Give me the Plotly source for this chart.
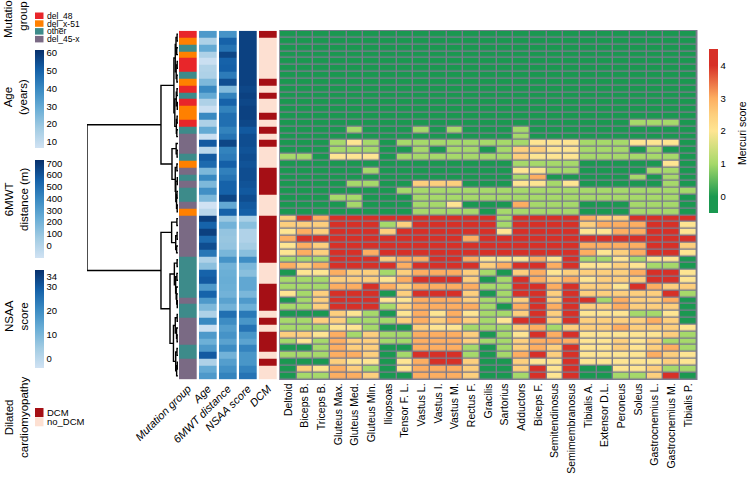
import plotly.graph_objects as go

# ---------------- data ----------------
MUSCLES = ["Deltoid", "Biceps B.", "Triceps B.", "Gluteus Max.", "Gluteus Med.", "Gluteus Min.",
           "Iliopsoas", "Tensor F. L.", "Vastus L.", "Vastus I.", "Vastus M.", "Rectus F.",
           "Gracilis", "Sartorius", "Adductors", "Biceps F.", "Semitendinosus", "Semimembranosus",
           "Tibialis A.", "Extensor D.L.", "Peroneus", "Soleus", "Gastrocnemius L.",
           "Gastrocnemius M.", "Tibialis P."]

# Mercuri score codes per patient row ('h' = 2.5)
MERCURI_CODE = {'0': 0, '1': 1, '2': 2, 'h': 2.5, '3': 3, '4': 4}
MERCURI_ROWS = [
    "0000000000000000000000000",
    "0000000000000000000000000",
    "0000000000000000000000000",
    "0000000000000000000000000",
    "0000000000000000000000000",
    "0000000000000000000000000",
    "0000000000000000000000000",
    "0000000000000000000000000",
    "0000000000000000000000000",
    "0000000000000000000000000",
    "0000000000000000000000000",
    "0000000000000000000000000",
    "0000000000000000000000000",
    "0000000000000000000001110",
    "0000100010100010000000000",
    "0000000000000010000000000",
    "0001210111111112221112220",
    "00011100101101hh221110100",
    "11022201111111h2221111110",
    "0000000000000011110000020",
    "0000010000000022110000110",
    "0000000000000013000001010",
    "00001100hhh00022120000010",
    "0000000111111111111111111",
    "0001100011111111111111110",
    "0000100011200031110001110",
    "0000000011110111110001110",
    "h434444444444144443hh4444",
    "hhh4441h4444414444h333442",
    "23h444h444444244442233442",
    "3444444444434444444444444",
    "23h444444444444444333344h",
    "23h44344444444444432h3442",
    "111444h334432223241121220",
    "3h3444434444h3443422h2110",
    "0223hh1h333h10h32hhhh3442",
    "111hhh23444h0143h32hhh442",
    "1113343h3333114434hh243hh",
    "21h4440h444h0144h4hhhhh41",
    "01h44422333h11h4h4413hh30",
    "11h4441h3333103434hh3hhh0",
    "000h2102323211h4h42221120",
    "11hh111h3h3h1244h4hhhh3h0",
    "11122100h22111h31hhh3hhh2",
    "hh231h11333h01243422222h1",
    "1213hh11333h11h33322h2h11",
    "0013hh00333101h3h422h2h31",
    "11133h0144410134h422223h2",
    "000h2202344h00h22422222h2",
    "0h23h102333h00h4240022h11",
    "01133h00333h0014240011h40",
]

MUT_CATS = ["del_48", "del_x-51", "other", "del_45-x"]
MUT_COLORS = ["#e8262a", "#ff8000", "#3d8b8a", "#7a6a84"]
MUTATION = (["del_48", "del_x-51", "other", "del_x-51", "del_48", "del_48", "other", "del_x-51",
             "del_48", "other", "del_48", "del_x-51", "del_x-51", "del_48", "other", "del_45-x",
             "del_45-x", "del_45-x", "other", "del_x-51", "del_45-x", "other", "del_45-x", "other",
             "other", "del_45-x", "del_x-51"]
            + ["del_45-x"] * 6 + ["other"] * 6 + ["del_45-x"] + ["other"] * 2
            + ["del_45-x"] * 4 + ["other"] * 2 + ["del_45-x"] * 3)

AGE = [35, 15, 30, 15, 8, 14, 15, 25, 40, 30, 15, 8, 40, 15, 30, 8, 52, 12, 52, 48, 25, 40, 25,
       38, 25, 6, 12, 58, 50, 58, 48, 55, 45, 15, 22, 50, 52, 35, 50, 35, 25, 15, 40, 8, 35, 28,
       35, 52, 15, 30, 35]
MWT6 = [350, 550, 480, 650, 550, 560, 450, 620, 150, 420, 550, 420, 500, 500, 420, 480, 650, 420,
        450, 560, 430, 480, 550, 550, 650, 250, 550, 80, 200, 100, 90, 100, 180, 350, 200, 220,
        230, 220, 200, 280, 200, 500, 380, 300, 350, 280, 380, 200, 300, 360, 420]
NSAA = [34, 34, 34, 34, 34, 34, 34, 34, 33, 34, 33, 34, 34, 33, 30, 32, 32, 31, 32, 31, 32, 32,
        31, 30, 32, 30, 29, 3, 8, 2, 2, 4, 8, 20, 10, 8, 14, 14, 10, 17, 12, 24, 18, 25, 18, 15,
        22, 18, 18, 22, 25]
DCM_CATS = ["DCM", "no_DCM"]
DCM_COLORS = ["#a50f15", "#fde0d2"]
DCM = (["DCM"] + ["no_DCM"] * 6 + ["DCM", "no_DCM", "DCM", "no_DCM", "no_DCM", "DCM", "no_DCM",
        "DCM", "no_DCM", "DCM"] + ["no_DCM"] * 3 + ["DCM"] * 4 + ["no_DCM"] * 3 + ["DCM"] * 7
       + ["no_DCM"] * 3 + ["DCM"] * 4 + ["no_DCM", "DCM", "no_DCM"] + ["DCM"] * 3
       + ["no_DCM", "DCM", "no_DCM", "no_DCM"])

ANNOT_LABELS = ["Mutation group", "Age", "6MWT distance", "NSAA score", "DCM"]

# dendrogram: [left, right, merge height]; leaves are row indices
DENDRO = [
    [[[[[0, 1, .010], [2, 3, .014], .022], [[4, 5, .009], [6, 7, .012], .020], .030],
      [[[8, 9, .011], [10, 11, .008], .019], [[12, 13, .010], [14, 15, .013], .018], .035], .045],
     [[16, [17, 18, .010], .020],
      [[19, 20, .012], [[21, 22, .008], [[23, 24, .011], [25, 26, .009], .016], .024], .030],
      .066],
     .187],
    [[[27, 28, .012], [[29, 30, .010], [31, 32, .015], .025], .070],
     [[[33, 34, .010], [[35, 36, .012], [37, [38, [39, 40, .008], .014], .020], .026], .040],
      [[[41, 42, .009], [43, [44, 45, .010], .016], .030],
       [[46, 47, .011], [[48, 49, .008], 50, .015], .025], .050],
      .088],
     .187],
    1.0]

# ---------------- helpers ----------------
W, H = 750, 482
FONT = "Liberation Sans, Arial, Helvetica, sans-serif"


def px(x):
    return x / W


def py(y):
    return 1 - y / H


N = len(MERCURI_ROWS)
z = [[MERCURI_CODE[c] for c in row] for row in MERCURI_ROWS]

HM_X0, HM_X1 = 280, 696.7
HM_Y0, HM_Y1 = 30.7, 379.3
AN_X0, AN_X1 = 178, 278
DG_X0, DG_X1 = 87, 178

MERC_SCALE = [[0, '#1a9850'], [0.1, '#1a9850'], [0.3, '#a6d96a'], [0.5, '#fee592'],
              [0.6, '#fdcf7d'], [0.7, '#fdae61'], [0.9, '#d73027'], [1, '#d73027']]
BLUES = [[0, '#d0e2f3'], [0.2, '#a3cce3'], [0.4, '#6aaed6'], [0.6, '#3a8ac2'],
         [0.8, '#1460a8'], [1, '#08306b']]


def discrete_scale(colors):
    n = len(colors)
    sc = []
    for i, c in enumerate(colors):
        sc.append([i / n, c])
        sc.append([(i + 1) / n, c])
    return sc


fig = go.Figure()

# main heatmap
fig.add_trace(go.Heatmap(
    z=z, x0=0, dx=1, y0=0, dy=1, colorscale=MERC_SCALE, zmin=-0.5, zmax=4.5,
    xgap=1.4, ygap=1.4, hoverinfo='skip', xaxis='x', yaxis='y',
    colorbar=dict(x=px(709), xanchor='left', xpad=0, y=py(131), yanchor='middle', ypad=0,
                  len=164, lenmode='pixels', thickness=9, outlinewidth=0,
                  tickvals=[0, 1, 2, 3, 4], ticks='', tickfont=dict(size=9.5, family=FONT, color='black'))
))

# annotation columns
mut_idx = [[MUT_CATS.index(m)] for m in MUTATION]
fig.add_trace(go.Heatmap(z=mut_idx, x0=0, dx=1, y0=0, dy=1, colorscale=discrete_scale(MUT_COLORS),
                         zmin=-0.5, zmax=len(MUT_CATS) - 0.5, showscale=False, xgap=2.3, ygap=0,
                         hoverinfo='skip', xaxis='x2', yaxis='y'))


def blue_bar(ycenter, tickvals):
    return dict(x=px(35), xanchor='left', xpad=0, y=py(ycenter), yanchor='middle', ypad=0,
                len=98, lenmode='pixels', thickness=9, outlinewidth=0, tickvals=tickvals,
                ticks='', tickfont=dict(size=9.5, family=FONT, color='black'))


fig.add_trace(go.Heatmap(z=[[v] for v in AGE], x0=1, dx=1, y0=0, dy=1, colorscale=BLUES,
                         zmin=6.6, zmax=61.7, xgap=2.3, ygap=0, hoverinfo='skip', xaxis='x2', yaxis='y',
                         colorbar=blue_bar(99, [10, 20, 30, 40, 50, 60])))
fig.add_trace(go.Heatmap(z=[[v] for v in MWT6], x0=2, dx=1, y0=0, dy=1, colorscale=BLUES,
                         zmin=-110, zmax=725, xgap=2.3, ygap=0, hoverinfo='skip', xaxis='x2', yaxis='y',
                         colorbar=blue_bar(209.5, [0, 100, 200, 300, 400, 500, 600, 700])))
fig.add_trace(go.Heatmap(z=[[v] for v in NSAA], x0=3, dx=1, y0=0, dy=1, colorscale=BLUES,
                         zmin=-3.8, zmax=36.9, xgap=2.3, ygap=0, hoverinfo='skip', xaxis='x2', yaxis='y',
                         colorbar=blue_bar(319, [0, 10, 20, 30, 34])))
dcm_idx = [[DCM_CATS.index(d)] for d in DCM]
fig.add_trace(go.Heatmap(z=dcm_idx, x0=4, dx=1, y0=0, dy=1, colorscale=discrete_scale(DCM_COLORS),
                         zmin=-0.5, zmax=len(DCM_CATS) - 0.5, showscale=False, xgap=2.3, ygap=0,
                         hoverinfo='skip', xaxis='x2', yaxis='y'))

# dendrogram
dx_, dy_ = [], []


def walk(node):
    if isinstance(node, int):
        return 0.0, float(node)
    hl, yl = walk(node[0])
    hr, yr = walk(node[1])
    h = node[2]
    dx_.extend([hl, h, h, hr, None])
    dy_.extend([yl, yl, yr, yr, None])
    return h, (yl + yr) / 2


walk(DENDRO)
fig.add_trace(go.Scatter(x=dx_, y=dy_, mode='lines', line=dict(color='black', width=1.4),
                         hoverinfo='skip', xaxis='x3', yaxis='y', cliponaxis=False, showlegend=False))

# grid background behind main heatmap
shapes = [dict(type='rect', xref='paper', yref='paper', x0=px(HM_X0 - 0.8), x1=px(HM_X1 + 0.8),
               y0=py(HM_Y1 + 0.8), y1=py(HM_Y0 - 0.8), fillcolor='#7b7b8d', line=dict(width=0),
               layer='below')]
annotations = []

# left legend: mutation group
for i, (cat, col) in enumerate(zip(MUT_CATS, MUT_COLORS)):
    yt = 12.5 + 7.8 * i
    shapes.append(dict(type='rect', xref='paper', yref='paper', x0=px(35), x1=px(43.5),
                       y0=py(yt + 6.5), y1=py(yt), fillcolor=col, line=dict(width=0)))
    annotations.append(dict(x=px(45), y=py(yt + 3.3), xref='paper', yref='paper', text=cat,
                            showarrow=False, xanchor='left', yanchor='middle',
                            font=dict(size=8.5, family=FONT, color='black')))
for i, (cat, col) in enumerate(zip(DCM_CATS, DCM_COLORS)):
    yt = 408 + 9.3 * i
    shapes.append(dict(type='rect', xref='paper', yref='paper', x0=px(35), x1=px(43.5),
                       y0=py(yt + 9), y1=py(yt), fillcolor=col, line=dict(width=0)))
    annotations.append(dict(x=px(45), y=py(yt + 4.5), xref='paper', yref='paper', text=cat,
                            showarrow=False, xanchor='left', yanchor='middle',
                            font=dict(size=9.5, family=FONT, color='black')))

# rotated left titles
for text, yc in [("Mutation<br>group", 16), ("Age<br>(years)", 97), ("6MWT<br>distance (m)", 200),
                 ("NSAA<br>score", 316), ("Dilated<br>cardiomyopathy", 418)]:
    annotations.append(dict(x=px(16), y=py(yc), xref='paper', yref='paper', text=text,
                            showarrow=False, textangle=-90, xanchor='center', yanchor='middle',
                            font=dict(size=11.5, family=FONT, color='black')))

# Mercuri colorbar title
annotations.append(dict(x=px(742), y=py(133), xref='paper', yref='paper', text='Mercuri score',
                        showarrow=False, textangle=-90, xanchor='center', yanchor='middle',
                        font=dict(size=10.5, family=FONT, color='black')))

fig.update_layout(
    width=W, height=H, margin=dict(l=0, r=0, t=0, b=0, autoexpand=False),
    paper_bgcolor='white', plot_bgcolor='white', showlegend=False,
    font=dict(family=FONT, color='black'),
    xaxis=dict(domain=[px(HM_X0), px(HM_X1)], range=[-0.5, len(MUSCLES) - 0.5], anchor='y',
               tickvals=list(range(len(MUSCLES))), ticktext=MUSCLES, tickangle=-90, ticks='',
               showgrid=False, zeroline=False, showline=False, ticklabelstandoff=1, automargin=False,
               tickfont=dict(size=10.5, family=FONT, color='black')),
    xaxis2=dict(domain=[px(AN_X0), px(AN_X1)], range=[-0.5, 4.5], anchor='y', automargin=False,
                tickvals=list(range(5)), ticktext=['<i>%s</i>' % t for t in ANNOT_LABELS],
                tickangle=-45, ticks='', showgrid=False, zeroline=False, showline=False,
                tickfont=dict(size=11, family=FONT, color='black')),
    xaxis3=dict(domain=[px(DG_X0), px(DG_X1)], range=[1.0, 0.0], anchor='y', visible=False,
                automargin=False),
    yaxis=dict(domain=[py(HM_Y1), py(HM_Y0)], range=[N - 0.5, -0.5], visible=False, anchor='x',
               automargin=False),
    shapes=shapes, annotations=annotations,
)

fig.write_html("out.html", config={'displayModeBar': False, 'staticPlot': True},
               post_script="document.body.style.margin='0px';")
